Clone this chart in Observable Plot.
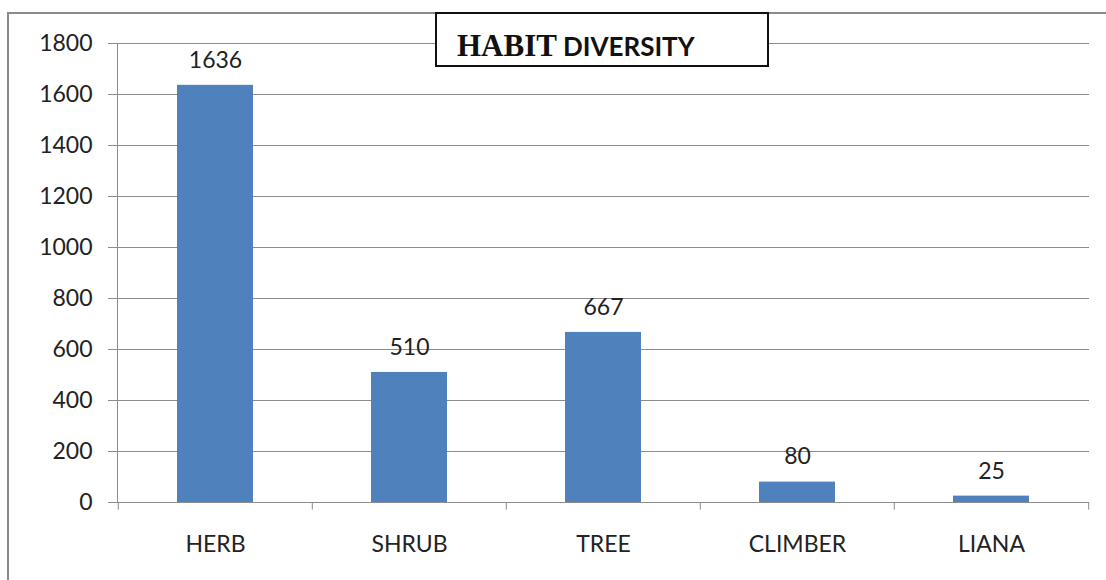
<!DOCTYPE html>
<html><head><meta charset="utf-8">
<script src="https://cdn.jsdelivr.net/npm/d3@7"></script>
<script src="https://cdn.jsdelivr.net/npm/@observablehq/plot@0.6"></script>
<style>
body{margin:0;background:#fff;}
#wrap{position:relative;width:1106px;height:580px;overflow:hidden;background:#fff;}
#wrap svg{position:absolute;left:0;top:0;}
#border{position:absolute;left:7px;top:12px;width:1200px;height:700px;border:2px solid #8a8a8a;pointer-events:none;}
#title{position:absolute;left:435px;top:12px;width:330px;height:51px;border:2px solid #111;background:#fff;box-sizing:content-box;line-height:40px;white-space:nowrap;}
#title .inner{position:absolute;left:20px;top:12px;}
#title .a{font-family:"Liberation Serif",serif;font-weight:bold;font-size:31px;color:#111;}
#title .b{font-family:Lato,sans-serif;font-weight:bold;font-size:26px;color:#111;margin-left:6px;}
</style></head>
<body>
<div id="wrap"><div id="border"></div><div id="title"><div class="inner"><span class="a">HABIT</span><span class="b">DIVERSITY</span></div></div></div>
<script>
const categories = ["HERB", "SHRUB", "TREE", "CLIMBER", "LIANA"];
const values = [1636, 510, 667, 80, 25];
const yTicks = [0, 200, 400, 600, 800, 1000, 1200, 1400, 1600, 1800];

const data = categories.map((c, i) => ({habit: c, count: values[i]}));
const W = 1106, H = 580, mL = 117, mR = 17;
const step = (W - mL - mR) / categories.length;
const gray = "#8c8c8c";
const ink = "#222";

const chart = Plot.plot({
  width: W, height: H,
  marginLeft: mL, marginRight: mR, marginTop: 43, marginBottom: 78,
  style: {fontFamily: "Lato, sans-serif", fontSize: "23px", color: ink, background: "transparent"},
  x: {domain: categories, paddingInner: 0.61, paddingOuter: 0.305, label: null},
  y: {domain: [0, 1800], label: null},
  marks: [
    Plot.gridY(yTicks, {stroke: gray, strokeOpacity: 1}),
    Plot.axisY(yTicks, {tickSize: 9, tickPadding: 16, stroke: gray, fill: ink, label: null, fontSize: 23, tickFormat: d => String(d)}),
    Plot.barY(data, {x: "habit", y: "count", fill: "#4f81bd"}),
    Plot.ruleX(categories, {dx: -step / 2, y1: 0, y2: -30, stroke: gray}),
    Plot.ruleX([categories[categories.length - 1]], {dx: step / 2, y1: 0, y2: -30, stroke: gray}),
    Plot.frame({anchor: "left", stroke: gray}),
    Plot.text(data, {x: "habit", y: "count", text: d => String(d.count), dy: -25, lineAnchor: "middle", fontSize: 23, fill: ink}),
    Plot.axisX({tickSize: 0, tickPadding: 33, label: null, fontSize: 23, fill: ink})
  ]
});
const wrap = document.getElementById("wrap");
wrap.insertBefore(chart, wrap.firstChild);
</script>
</body></html>
